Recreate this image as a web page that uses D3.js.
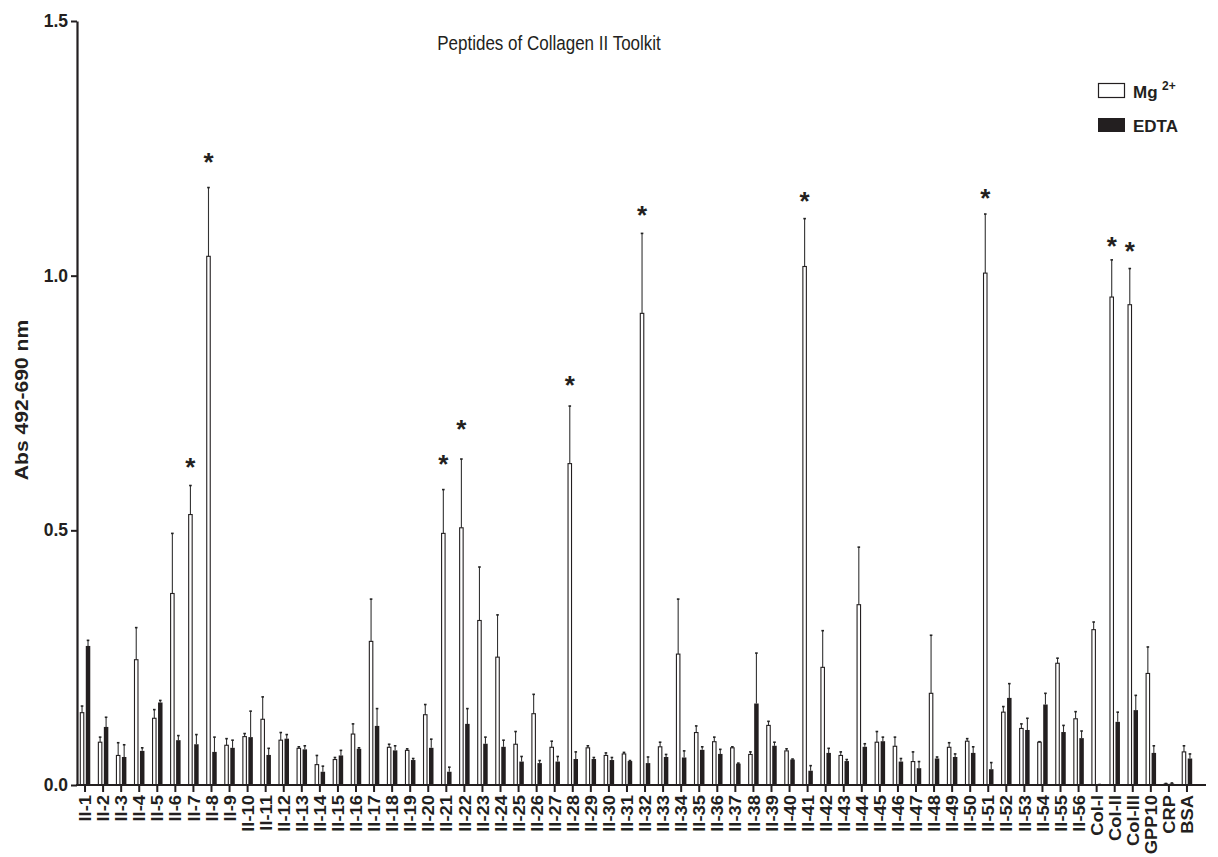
<!DOCTYPE html>
<html><head><meta charset="utf-8">
<script src="https://cdn.jsdelivr.net/npm/d3@7"></script>
<style>
html,body{margin:0;padding:0;background:#fff;}
svg{display:block;font-family:"Liberation Sans",Arial,Helvetica,sans-serif;}
</style></head>
<body><svg id="chart" width="1218" height="857"></svg>
<script>
const categories = ["II-1","II-2","II-3","II-4","II-5","II-6","II-7","II-8","II-9","II-10",
"II-11","II-12","II-13","II-14","II-15","II-16","II-17","II-18","II-19","II-20",
"II-21","II-22","II-23","II-24","II-25","II-26","II-27","II-28","II-29","II-30",
"II-31","II-32","II-33","II-34","II-35","II-36","II-37","II-38","II-39","II-40",
"II-41","II-42","II-43","II-44","II-45","II-46","II-47","II-48","II-49","II-50",
"II-51","II-52","II-53","II-54","II-55","II-56","Col-I","Col-II","Col-III","GPP10","CRP","BSA"];

const mgValues = [0.142,0.084,0.058,0.246,0.131,0.376,0.531,1.038,0.078,0.095,
0.129,0.088,0.072,0.040,0.050,0.100,0.282,0.074,0.068,0.138,
0.494,0.505,0.323,0.251,0.080,0.140,0.074,0.631,0.073,0.058,
0.061,0.926,0.075,0.257,0.103,0.085,0.073,0.060,0.117,0.067,
1.018,0.231,0.058,0.354,0.084,0.076,0.046,0.180,0.074,0.086,
1.005,0.143,0.111,0.084,0.239,0.130,0.305,0.958,0.943,0.219,0.002,0.065];

const mgErrors = [0.013,0.010,0.025,0.063,0.017,0.118,0.057,0.135,0.013,0.006,
0.044,0.015,0.003,0.018,0.004,0.020,0.083,0.006,0.003,0.020,
0.086,0.135,0.105,0.083,0.025,0.038,0.012,0.113,0.004,0.005,
0.003,0.157,0.009,0.108,0.013,0.009,0.002,0.005,0.008,0.004,
0.094,0.072,0.007,0.113,0.021,0.018,0.019,0.114,0.009,0.005,
0.116,0.011,0.009,0.001,0.010,0.014,0.015,0.073,0.071,0.052,0.001,0.012];

const edtaValues = [0.273,0.114,0.055,0.067,0.162,0.088,0.080,0.065,0.073,0.094,
0.059,0.091,0.070,0.026,0.058,0.071,0.116,0.068,0.049,0.073,
0.026,0.120,0.081,0.075,0.046,0.043,0.046,0.051,0.051,0.049,
0.047,0.043,0.055,0.054,0.069,0.061,0.042,0.160,0.077,0.050,
0.028,0.063,0.047,0.075,0.086,0.046,0.033,0.052,0.055,0.063,
0.031,0.171,0.108,0.158,0.104,0.092,0.001,0.124,0.147,0.063,0.003,0.052];

const edtaErrors = [0.011,0.019,0.024,0.006,0.004,0.009,0.019,0.029,0.015,0.051,
0.013,0.008,0.007,0.011,0.010,0.002,0.034,0.009,0.003,0.017,
0.009,0.030,0.013,0.013,0.010,0.005,0.010,0.014,0.003,0.005,
0.001,0.012,0.005,0.013,0.006,0.009,0.001,0.099,0.007,0.001,
0.010,0.009,0.003,0.006,0.008,0.006,0.013,0.003,0.006,0.012,
0.013,0.028,0.023,0.022,0.013,0.014,0.000,0.019,0.029,0.014,0.001,0.009];

const starCategories = ["II-7","II-8","II-21","II-22","II-28","II-32","II-41","II-51","Col-II","Col-III"];
const starLevels = [0.633,1.231,0.639,0.706,0.794,1.127,1.155,1.161,1.067,1.057];

const yTicks = [0,0.5,1.0,1.5];
const seriesNames = ["Mg","EDTA"];
const titleText = "Peptides of Collagen II Toolkit";
const yLabel = "Abs 492-690 nm";

const svg = d3.select("#chart");
const plotLeft = 77, plotRight = 1206, plotTop = 21, plotBottom = 785;
const x = d3.scaleBand().domain(categories).range([76, 1196]).paddingInner(0.42).paddingOuter(0.21);
const x1 = d3.scaleBand().domain(seriesNames).range([0, x.bandwidth()]).paddingInner(0.25);
const y = d3.scaleLinear().domain([0, 1.5]).range([plotBottom, plotTop]);

const rows = categories.map((c,i)=>({c, mg:mgValues[i], mgE:mgErrors[i], ed:edtaValues[i], edE:edtaErrors[i]}));
const ink = "#231f20";

// bars
const g = svg.append("g");
rows.forEach(r=>{
  [["Mg", r.mg, r.mgE], ["EDTA", r.ed, r.edE]].forEach(([s,v,e])=>{
    const bx = x(r.c) + x1(s);
    const bw = x1.bandwidth();
    const cx = bx + bw/2;
    g.append("line").attr("x1",cx).attr("x2",cx).attr("y1",y(v)).attr("y2",y(v+e))
      .attr("stroke","#333").attr("stroke-width",1.1);
    g.append("line").attr("x1",cx-1.3).attr("x2",cx+1.3).attr("y1",y(v+e)).attr("y2",y(v+e))
      .attr("stroke","#222").attr("stroke-width",1.6);
    if (s==="Mg") {
      g.append("rect").attr("x",bx+0.5).attr("y",y(v)).attr("width",bw-1).attr("height",Math.max(0,y(0)-y(v)))
        .attr("fill","#fff").attr("stroke",ink).attr("stroke-width",1.1);
    } else {
      g.append("rect").attr("x",bx).attr("y",y(v)).attr("width",bw).attr("height",Math.max(0,y(0)-y(v)))
        .attr("fill",ink);
    }
  });
});

// stars
starCategories.forEach((c,i)=>{
  const cx = x(c) + x1("Mg") + x1.bandwidth()/2;
  svg.append("text").attr("x",cx).attr("y",y(starLevels[i])+13)
    .attr("text-anchor","middle").attr("font-size",26).attr("font-weight","bold").attr("fill",ink).text("*");
});

// y axis
const yAxis = d3.axisLeft(y).tickValues(yTicks).tickFormat(d3.format(".1f")).tickSize(6).tickSizeOuter(0);
const ya = svg.append("g").attr("transform",`translate(${plotLeft},0)`).call(yAxis);
ya.select(".domain").attr("stroke",ink).attr("stroke-width",2.2);
ya.selectAll(".tick line").attr("stroke",ink).attr("stroke-width",2);
ya.selectAll(".tick text").attr("font-size",17.5).attr("font-weight","bold").attr("fill",ink)
  .attr("font-family","Liberation Sans, Arial, sans-serif").attr("x",-9);

// x axis
const xAxis = d3.axisBottom(x).tickSize(7).tickSizeOuter(0);
const xa = svg.append("g").attr("transform",`translate(0,${plotBottom})`).call(xAxis);
xa.select(".domain").remove();
xa.selectAll(".tick line").attr("stroke",ink).attr("stroke-width",2);
xa.selectAll(".tick text").attr("font-size",17).attr("font-weight","bold").attr("fill",ink)
  .attr("font-family","Liberation Sans, Arial, sans-serif")
  .attr("x",0).attr("y",0).attr("dy","0.36em").attr("text-anchor","end")
  .attr("transform","translate(0,10) scale(1,1.08) rotate(-90)");
svg.append("line").attr("x1",plotLeft-1).attr("x2",plotRight).attr("y1",plotBottom).attr("y2",plotBottom)
  .attr("stroke",ink).attr("stroke-width",2.2);

// title
svg.append("text").attr("transform","translate(549,50) scale(1,1.17)").attr("text-anchor","middle")
  .attr("font-size",17).attr("fill",ink).text(titleText);

// y label
svg.append("text").attr("transform","translate(28,400) scale(1,1.17) rotate(-90)").attr("text-anchor","middle")
  .attr("font-size",18).attr("font-weight","bold").attr("fill",ink).text(yLabel);

// legend
const lg = svg.append("g");
lg.append("rect").attr("x",1098.5).attr("y",83.5).attr("width",26).attr("height",14)
  .attr("fill","#fff").attr("stroke",ink).attr("stroke-width",1.2);
lg.append("text").attr("x",1133).attr("y",98).attr("font-size",17).attr("font-weight","bold").attr("fill",ink).text("Mg");
lg.append("text").attr("x",1162).attr("y",90).attr("font-size",12).attr("font-weight","bold").attr("fill",ink).text("2+");
lg.append("rect").attr("x",1098).attr("y",118).attr("width",27).attr("height",14).attr("fill",ink);
lg.append("text").attr("x",1133).attr("y",132).attr("font-size",17).attr("font-weight","bold").attr("fill",ink).text("EDTA");
</script></body></html>
